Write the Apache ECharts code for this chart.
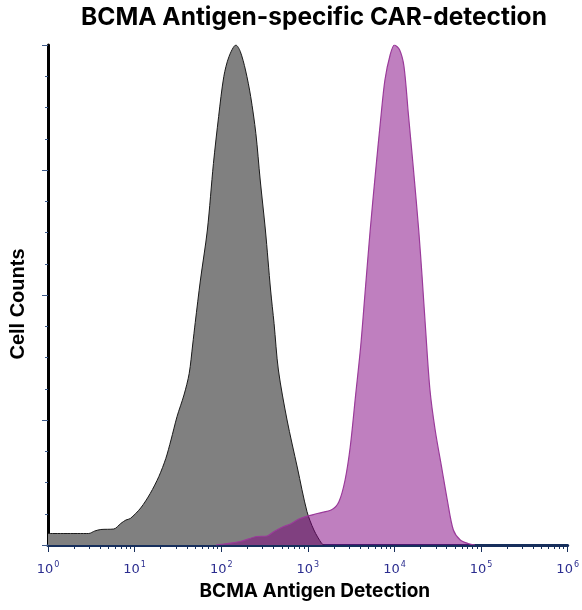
<!DOCTYPE html>
<html lang="en">
<head>
<meta charset="UTF-8">
<title>BCMA Antigen-specific CAR-detection</title>
<script src="https://cdn.jsdelivr.net/npm/echarts@6/dist/echarts.min.js"></script>
<style>
    html, body, #content {
        width: 100%;
        height: 100%;
        margin: 0;
        background: #fff;
    }
</style>
</head>
<body>
<div id="content"></div>
<script>
// x = log10(fluorescence), y = % of peak count
var greyLogFL = [0.00, 0.47, 0.54, 0.61, 0.76, 0.84, 0.90, 0.95, 1.07, 1.18, 1.28, 1.36, 1.42, 1.49, 1.57, 1.63,
    1.67, 1.70, 1.76, 1.84, 1.91, 1.97, 2.03, 2.09, 2.17, 2.22, 2.28, 2.34, 2.40, 2.45, 2.51, 2.57, 2.61, 2.66,
    2.76, 2.88, 2.99, 3.07, 3.16, 3.19];
var greyCounts = [2.3, 2.3, 2.8, 3.1, 3.2, 4.3, 5.0, 5.3, 7.4, 10.3, 13.7, 17.3, 21.0, 25.7, 30.0, 34.3,
    40.0, 44.5, 53.0, 63.0, 76.3, 85.7, 93.7, 97.7, 100, 98.7, 95.0, 89.7, 82.3, 73.0, 63.0, 51.0, 44.3, 35.0,
    25.0, 15.4, 6.7, 3.0, 0.3, 0];

var carLogFL = [1.94, 2.22, 2.41, 2.53, 2.61, 2.72, 2.80, 2.91, 3.11, 3.28, 3.36, 3.43, 3.49, 3.55, 3.61, 3.66,
    3.72, 3.78, 3.84, 3.89, 3.95, 4.00, 4.06, 4.11, 4.16, 4.22, 4.28, 4.32, 4.36, 4.41, 4.47, 4.55, 4.61, 4.68,
    4.76, 4.85, 4.93];
var carCounts = [0, 0.7, 1.7, 1.8, 2.7, 3.7, 4.2, 5.3, 6.3, 7.1, 8.7, 13.0, 19.7, 29.7, 39.7, 50.3,
    63.0, 74.3, 85.0, 93.0, 98.0, 100, 99.0, 95.7, 86.3, 75.0, 63.0, 53.4, 43.0, 31.0, 23.0, 15.0, 9.0, 3.0,
    1.0, 0.3, 0];

var decades = [0, 1, 2, 3, 4, 5, 6];

function pairs(xs, ys) {
    return xs.map(function (x, i) { return [x, ys[i]]; });
}

// minor ticks at 2..9 x 10^n
var minorTicks = [];
decades.slice(0, -1).forEach(function (d) {
    for (var k = 2; k <= 9; k++) minorTicks.push(d + Math.log10(k));
});

var chart = echarts.init(document.getElementById('content'));
var navy = '#172f5c';
var tickBlue = '#3d5a8a';

chart.setOption({
    animation: false,
    grid: { left: 47, right: 14, top: 45, bottom: 65 },
    graphic: [{
        type: 'text',
        x: 314, y: 18,
        style: {
            text: 'BCMA Antigen-specific CAR-detection',
            font: 'bold 24.5px Inter',
            fill: '#000',
            textAlign: 'center',
            textVerticalAlign: 'middle'
        }
    }],
    xAxis: [{
        type: 'value',
        min: 0, max: 6, interval: 1,
        name: 'BCMA Antigen Detection',
        nameLocation: 'middle',
        nameGap: 37,
        nameTextStyle: { fontFamily: 'Inter', fontWeight: 'bold', fontSize: 19, color: '#000', padding: [0, 0, 0, 14] },
        axisLine: { show: true, lineStyle: { color: navy, width: 3 } },
        axisTick: { show: true, length: 7, lineStyle: { color: navy, width: 1 } },
        splitLine: { show: false },
        axisLabel: {
            margin: 16,
            formatter: function (v) { return '{b|10}{s|' + v + '}'; },
            rich: {
                b: { fontFamily: 'DejaVu Sans', fontSize: 13, color: '#2b2d8f' },
                s: { fontFamily: 'DejaVu Sans', fontSize: 8, color: '#2b2d8f', padding: [0, 0, 9, 1] }
            }
        }
    }, {
        type: 'value',
        min: 0, max: 6,
        position: 'bottom',
        axisLine: { show: false },
        axisLabel: { show: false },
        splitLine: { show: false },
        axisTick: { show: true, length: 4, customValues: minorTicks, lineStyle: { color: navy, width: 1 } }
    }],
    yAxis: {
        type: 'value',
        min: 0, max: 100, interval: 25,
        name: 'Cell Counts',
        nameLocation: 'middle',
        nameGap: 20,
        nameTextStyle: { fontFamily: 'Liberation Sans', fontWeight: 'bold', fontSize: 20, color: '#000', padding: [0, 18, 0, 0] },
        axisLine: { show: true, lineStyle: { color: '#000', width: 3 } },
        axisTick: { show: true, length: 6, lineStyle: { color: tickBlue, width: 1 } },
        minorTick: { show: true, splitNumber: 4, length: 3, lineStyle: { color: tickBlue, width: 1 } },
        axisLabel: { show: false },
        splitLine: { show: false }
    },
    series: [{
        name: 'Control',
        type: 'line',
        data: pairs(greyLogFL, greyCounts),
        smooth: 0.3,
        symbol: 'none',
        lineStyle: { color: '#1a1a1a', width: 1 },
        areaStyle: { color: '#808080', opacity: 1 },
        z: 2
    }, {
        name: 'CAR',
        type: 'line',
        data: pairs(carLogFL, carCounts),
        smooth: 0.3,
        symbol: 'none',
        lineStyle: { color: '#9a3a9a', width: 1.2 },
        areaStyle: { color: '#800080', opacity: 0.5 },
        z: 3
    }]
});
window.onresize = chart.resize;
</script>
</body>
</html>
